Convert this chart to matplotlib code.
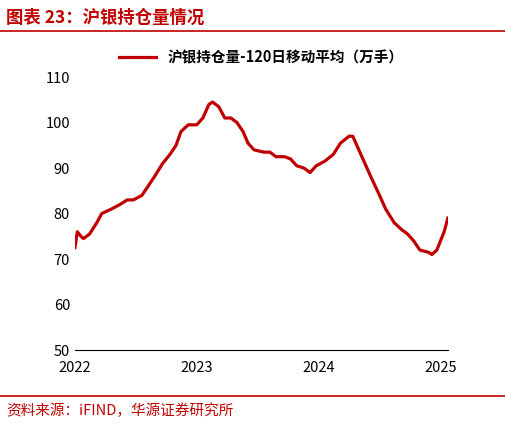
import matplotlib
matplotlib.use("Agg")
import matplotlib.pyplot as plt
plt.rcParams['font.family'] = ['Noto Sans CJK SC', 'DejaVu Sans']

t = [2022.0,2022.02,2022.05,2022.07,2022.12,2022.18,2022.22,2022.3,2022.37,2022.43,2022.48,2022.55,2022.6,2022.65,2022.72,2022.78,2022.83,2022.87,2022.93,2023.0,2023.05,2023.1,2023.13,2023.18,2023.23,2023.28,2023.33,2023.38,2023.42,2023.47,2023.55,2023.6,2023.65,2023.72,2023.77,2023.82,2023.88,2023.93,2023.98,2024.05,2024.12,2024.18,2024.25,2024.28,2024.33,2024.38,2024.43,2024.5,2024.55,2024.62,2024.68,2024.73,2024.78,2024.83,2024.9,2024.93,2024.97,2025.0,2025.03,2025.06]
v = [72.5,76,75,74.5,75.5,78,80,81,82,83,83,84,86,88,91,93,95,98,99.5,99.5,101,104,104.5,103.5,101,101,100,98,95.5,94,93.5,93.5,92.5,92.5,92,90.5,90,89,90.5,91.5,93,95.5,97,97,94,91,88,84,81,78,76.5,75.5,74,72,71.5,71,72,74,76,79]
xticks = [2022, 2023, 2024, 2025]
yticks = [50, 60, 70, 80, 90, 100, 110]

fig = plt.figure(figsize=(5.06, 4.28), dpi=100)
ax = fig.add_axes([0.148, 0.182, 0.737, 0.638])
ax.plot(t, v, color='#C00000', lw=2.3, label='沪银持仓量-120日移动平均（万手）')
ax.set_xlim(2022, 2025.06)
ax.set_ylim(50, 110)
ax.set_xticks(xticks)
ax.set_xticklabels([str(x) for x in xticks])
ax.set_yticks(yticks)
for s in ['top', 'right', 'left']:
    ax.spines[s].set_visible(False)
ax.spines['bottom'].set_color('black')
ax.tick_params(axis='both', labelsize=10.5, length=0)
ax.tick_params(axis='x', pad=8)
ax.legend(loc='upper center', bbox_to_anchor=(0.5, 1.15), frameon=False,
          prop={'size': 10.5, 'weight': 'bold'}, handlelength=2.5)
fig.text(0.012, 0.958, '图表 23：沪银持仓量情况', color='#C00000', fontsize=12.5, fontweight='bold', va='center')
fig.add_artist(plt.Line2D([0, 1], [0.927, 0.927], color='#C00000', lw=1.2))
fig.add_artist(plt.Line2D([0, 1], [0.075, 0.075], color='#C00000', lw=1.2))
fig.text(0.012, 0.04, '资料来源：iFIND，华源证券研究所', color='#C00000', fontsize=10.5, va='center')
fig.savefig('out.png', dpi=100)
